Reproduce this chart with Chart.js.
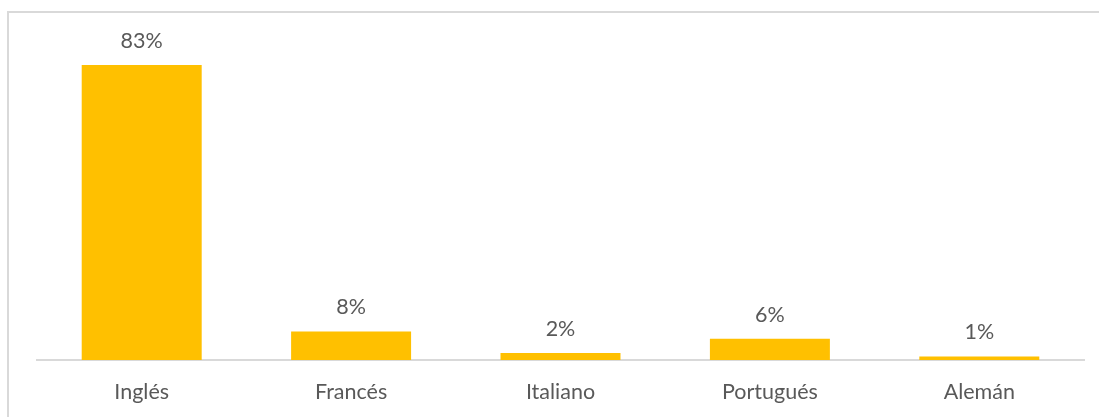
<!DOCTYPE html>
<html>
<head>
<meta charset="utf-8">
<script src="https://cdn.jsdelivr.net/npm/chart.js@4/dist/chart.umd.min.js"></script>
<style>
    html, body { margin: 0; padding: 0; background: #fff; overflow: hidden; }
    #wrap { position: relative; width: 1099px; height: 417px; }
    #frame {
        position: absolute; left: 7px; top: 11px; width: 1200px; height: 500px;
        border-left: 2px solid #d9d9d9; border-top: 2px solid #d9d9d9;
        pointer-events: none;
    }
</style>
</head>
<body>
<div id="wrap">
    <canvas id="langChart" width="1099" height="417"></canvas>
    <div id="frame"></div>
</div>
<script>
// Languages and their share (%)
const languages = ['Inglés', 'Francés', 'Italiano', 'Portugués', 'Alemán'];
const shares = [83, 8, 2, 6, 1];

const textColor = '#595959';
const fontFamily = 'Lato, "Open Sans", sans-serif';
const fontSize = 21.5;

// Draw the percentage above each bar
const valueLabels = {
    id: 'valueLabels',
    afterDatasetsDraw(chart) {
        const ctx = chart.ctx;
        const meta = chart.getDatasetMeta(0);
        ctx.save();
        ctx.fillStyle = textColor;
        ctx.font = fontSize + 'px ' + fontFamily;
        ctx.textAlign = 'center';
        ctx.textBaseline = 'middle';
        meta.data.forEach((bar, i) => {
            ctx.fillText(shares[i] + '%', bar.x, bar.y - 24);
        });
        ctx.restore();
    }
};

const ctx = document.getElementById('langChart').getContext('2d');
new Chart(ctx, {
    type: 'bar',
    data: {
        labels: languages,
        datasets: [{
            data: shares,
            backgroundColor: '#FFC000',
            borderWidth: 0,
            categoryPercentage: 1,
            barPercentage: 0.573
        }]
    },
    options: {
        responsive: false,
        animation: false,
        layout: { padding: { left: 37, right: 15, top: 40, bottom: 0 } },
        plugins: {
            legend: { display: false },
            tooltip: { enabled: false }
        },
        scales: {
            x: {
                grid: { display: false, drawTicks: false },
                border: { display: true, color: '#d9d9d9', width: 2 },
                ticks: {
                    color: textColor,
                    font: { family: fontFamily, size: fontSize },
                    padding: 19,
                    maxRotation: 0
                },
                afterFit(scale) { scale.height = 57; }
            },
            y: {
                display: false,
                min: 0,
                max: 90
            }
        }
    },
    plugins: [valueLabels]
});
</script>
</body>
</html>
